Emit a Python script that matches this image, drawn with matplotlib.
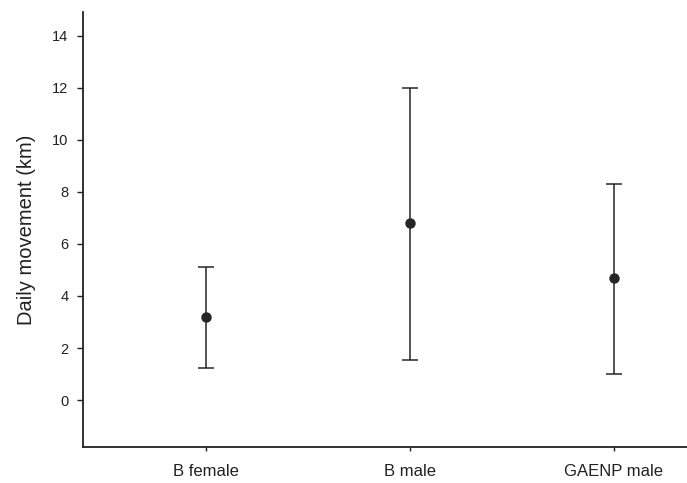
import matplotlib
matplotlib.use("Agg")
from matplotlib import pyplot as plt

# data
groups = ["B female", "B male", "GAENP male"]
means = [3.2, 6.8, 4.7]
upper = [5.1, 12.0, 8.3]
lower = [1.25, 1.55, 1.0]

plt.rcParams['font.family'] = ['Liberation Sans', 'DejaVu Sans']

x = list(range(len(groups)))
err_lo = [m - l for m, l in zip(means, lower)]
err_hi = [u - m for m, u in zip(means, upper)]

fig = plt.figure(figsize=(6.87, 4.83), dpi=100)
ax = fig.add_axes([0.121, 0.0745, 0.879, 0.9005])

ax.errorbar(x, means, yerr=[err_lo, err_hi], fmt='o', color='#262626',
            ecolor='#262626', elinewidth=1.1, capsize=5.5, capthick=1.1,
            markersize=6.5)

ax.set_xlim(-0.6, 2.36)
ax.set_ylim(-1.8, 14.9)
ax.set_yticks(range(0, 15, 2))
ax.set_xticks(x)
ax.set_xticklabels(groups)
ax.set_ylabel("Daily movement (km)", fontsize=14.5, color='#222222', labelpad=12)

for s in ['top', 'right']:
    ax.spines[s].set_visible(False)
for s in ['left', 'bottom']:
    ax.spines[s].set_linewidth(1.3)
    ax.spines[s].set_color('#222222')
ax.tick_params(axis='y', labelsize=10.5, colors='#222222', length=4.5, width=1, pad=6)
ax.tick_params(axis='x', labelsize=12, colors='#222222', length=3, width=1, pad=9)

plt.savefig('out.png', dpi=100)
